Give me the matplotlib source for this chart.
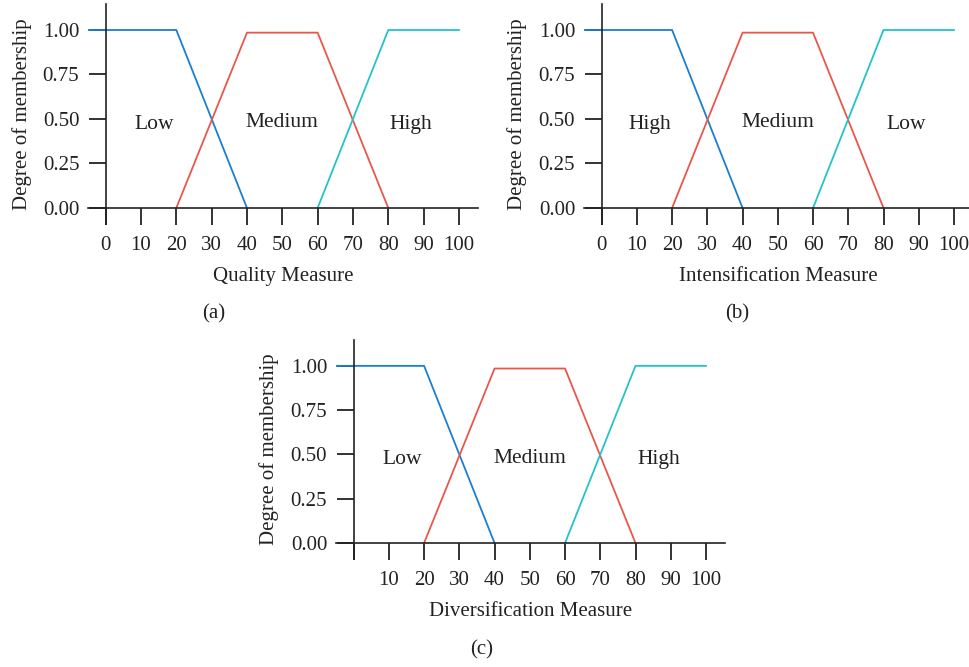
import numpy as np
import matplotlib.pyplot as plt

plt.rcParams['font.family'] = ['Liberation Serif', 'DejaVu Serif']

# membership function break points
x_left = [-5, 20, 40]
y_left = [1, 1, 0]
x_mid = [20, 40, 60, 80]
y_mid = [0, 0.985, 0.985, 0]
x_right = [60, 80, 100]
y_right = [0, 1, 1]

x_ticks = [0, 10, 20, 30, 40, 50, 60, 70, 80, 90, 100]
y_ticks = [0.0, 0.25, 0.5, 0.75, 1.0]

panels = [
    ("Quality Measure", ["Low", "Medium", "High"], "(a)"),
    ("Intensification Measure", ["High", "Medium", "Low"], "(b)"),
    ("Diversification Measure", ["Low", "Medium", "High"], "(c)"),
]

c_blue = '#1b7fd1'
c_red = '#e9574b'
c_cyan = '#22c4c9'

W, H = 970, 667
fig = plt.figure(figsize=(W / 100, H / 100), dpi=100)

# axes boxes in pixels: left, top, right, bottom
boxes = [(88, 4, 478, 224), (584, 4, 973, 224), (336, 340, 725, 559)]
caption_pos = [(214, 314), (737, 314), (482, 650)]

for i, (xlab, names, cap) in enumerate(panels):
    l, t, r, b = boxes[i]
    ax = fig.add_axes([l / W, (H - b) / H, (r - l) / W, (b - t) / H])
    ax.plot(x_left, y_left, color=c_blue, lw=1.3)
    ax.plot(x_mid, y_mid, color=c_red, lw=1.3)
    ax.plot(x_right, y_right, color=c_cyan, lw=1.3)
    ax.set_xlim(-5, 105.4)
    ax.set_ylim(-0.09, 1.146)
    for s in ['top', 'right']:
        ax.spines[s].set_visible(False)
    ax.spines['left'].set_position(('data', 0))
    ax.spines['bottom'].set_position(('data', 0))
    ax.spines['left'].set_bounds(-0.09, 1.146)
    for s in ['left', 'bottom']:
        ax.spines[s].set_color('#222222')
        ax.spines[s].set_linewidth(1.2)
    ax.set_xticks(x_ticks)
    if i == 2:
        ax.set_xticklabels([''] + [str(v) for v in x_ticks[1:]])
    else:
        ax.set_xticklabels([str(v) for v in x_ticks])
    ax.set_yticks(y_ticks)
    ax.set_yticklabels(['%.2f' % v for v in y_ticks])
    ax.tick_params(axis='both', direction='out', length=12, width=1.4,
                   color='#333333', labelsize=15, labelcolor='#222222')
    ax.tick_params(axis='x', pad=8)
    ax.tick_params(axis='y', pad=7)
    ax.set_xlabel(xlab, fontsize=15, color='#222222', labelpad=9)
    ax.set_ylabel("Degree of membership", fontsize=15, color='#222222', labelpad=8)
    ax.text(13.8, 0.47, names[0], fontsize=15.5, ha='center', va='center', color='#222222')
    ax.text(50, 0.48, names[1], fontsize=15.5, ha='center', va='center', color='#222222')
    ax.text(86.5, 0.47, names[2], fontsize=15.5, ha='center', va='center', color='#222222')
    fig.text(caption_pos[i][0] / W, 1 - caption_pos[i][1] / H, cap,
             fontsize=15, ha='center', va='center', color='#222222')

fig.savefig('out.png', dpi=100)
